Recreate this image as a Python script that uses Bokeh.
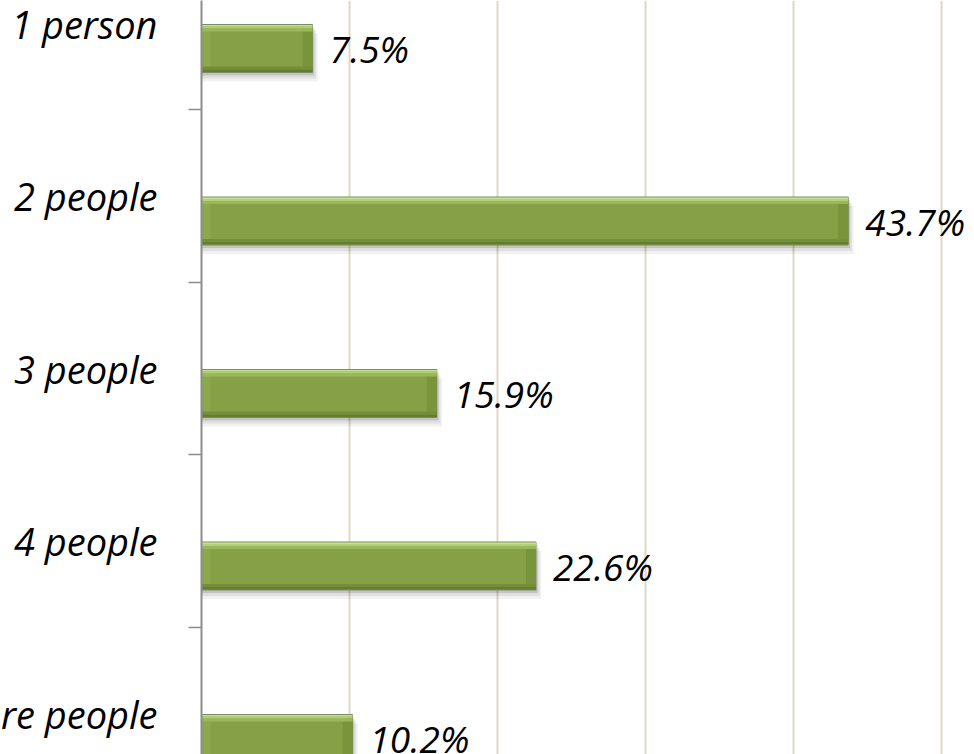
from bokeh.plotting import figure
from bokeh.models import ColumnDataSource, Range1d, FixedTicker, LabelSet
from bokeh.layouts import row
from bokeh.transform import dodge
from bokeh.core.properties import value
from bokeh.embed import file_html
from bokeh.resources import INLINE

categories = ["1 person", "2 people", "3 people", "4 people", "5 or more people"]
values = [7.5, 43.7, 15.9, 22.6, 10.2]
value_labels = ["7.5%", "43.7%", "15.9%", "22.6%", "10.2%"]
grid_ticks = [10, 20, 30, 40, 50]

n = len(categories)
source = ColumnDataSource(dict(cat=categories, val=values, lab=value_labels, y=list(range(n))))

W, H = 974, 754
AXIS_X = 201            # canvas x of the value axis
INNER = 40              # left border of the bar figure (room for ticks)
LW = AXIS_X - INNER     # width of the label figure
CAT_PX = 172.5          # pixels per category
X_PX = 14.8             # pixels per percent
PY = 1.0 / CAT_PX
PX = 1.0 / X_PX
top_center_px = 23      # canvas y of first category centre

y_top = -top_center_px / CAT_PX
y_bot = (H - top_center_px) / CAT_PX
yr = Range1d(y_bot, y_top)

FONT = value("Open Sans")

# ---- label column (category names) ----
lp = figure(width=LW, height=H, output_backend="svg", toolbar_location=None,
            x_range=Range1d(0, LW), y_range=yr,
            min_border_left=0, min_border_right=0, min_border_top=0, min_border_bottom=0)
lp.axis.visible = False
lp.grid.visible = False
lp.outline_line_color = None
lp.text(x=LW - 4, y="y", text="cat", source=source, text_align="right", text_baseline="middle",
        text_font=FONT, text_font_style="italic", text_font_size="38px", text_color="black")

# ---- bar chart ----
p = figure(width=W - LW, height=H, output_backend="svg", toolbar_location=None,
           x_range=Range1d(0, (W - AXIS_X) / X_PX), y_range=yr,
           min_border_left=INNER, min_border_right=0, min_border_top=0, min_border_bottom=0)
p.outline_line_color = None
p.background_fill_color = "white"
p.border_fill_color = "white"

p.xaxis.visible = False
p.xgrid.ticker = FixedTicker(ticks=grid_ticks)
p.xgrid.grid_line_color = "#DDD9C4"
p.xgrid.grid_line_width = 2
p.ygrid.visible = False

yax = p.yaxis[0]
yax.ticker = FixedTicker(ticks=[], minor_ticks=[i + 0.5 for i in range(n - 1)])
yax.axis_line_color = "#8C8C8C"
yax.axis_line_width = 2
yax.minor_tick_out = 13
yax.minor_tick_in = 0
yax.minor_tick_line_color = "#8C8C8C"
yax.minor_tick_line_width = 1.5
yax.major_tick_line_color = None
yax.major_label_text_font_size = "0px"

BAR_TOP = 1     # px below category centre
BAR_H = 48      # px


def strip(y0, y1, color, left=0, right="val", alpha=1.0, line=None):
    """Horizontal band from y0 to y1 pixels below the bar top."""
    center = (BAR_TOP + (y0 + y1) / 2.0) * PY
    p.hbar(y=dodge("y", center), height=(y1 - y0) * PY, left=left, right=right,
           fill_color=color, fill_alpha=alpha, line_color=line, source=source)


# soft drop shadow
for off, a in [(9, 0.05), (6, 0.08), (3, 0.12)]:
    strip(off, BAR_H + off, "#000000", left=0, right=dodge("val", off * 0.6 * PX), alpha=a)

# base bar
strip(0, BAR_H, "#86A045", line="#7A8C66")
# left bevel
strip(4, BAR_H - 4, "#8BA84B", left=0, right=9 * PX)
# right bevel
strip(4, BAR_H - 4, "#7A943C", left=dodge("val", -10 * PX), right="val")
# top highlight
strip(0.5, 2, "#C6E190")
strip(2, 4, "#B3CF79")
strip(4, 7, "#9AB75E")
# bottom dark edge
strip(BAR_H - 6, BAR_H - 3, "#748E3A")
strip(BAR_H - 3, BAR_H - 0.5, "#647E2E")

val_labels = LabelSet(x="val", y=dodge("y", (BAR_TOP + BAR_H / 2) * PY), text="lab", source=source,
                      x_offset=17, text_align="left", text_baseline="middle",
                      text_font=FONT, text_font_style="italic", text_font_size="37px",
                      text_color="black")
p.add_layout(val_labels)

layout = row(lp, p)
open("out.html", "w").write(file_html(layout, INLINE))
